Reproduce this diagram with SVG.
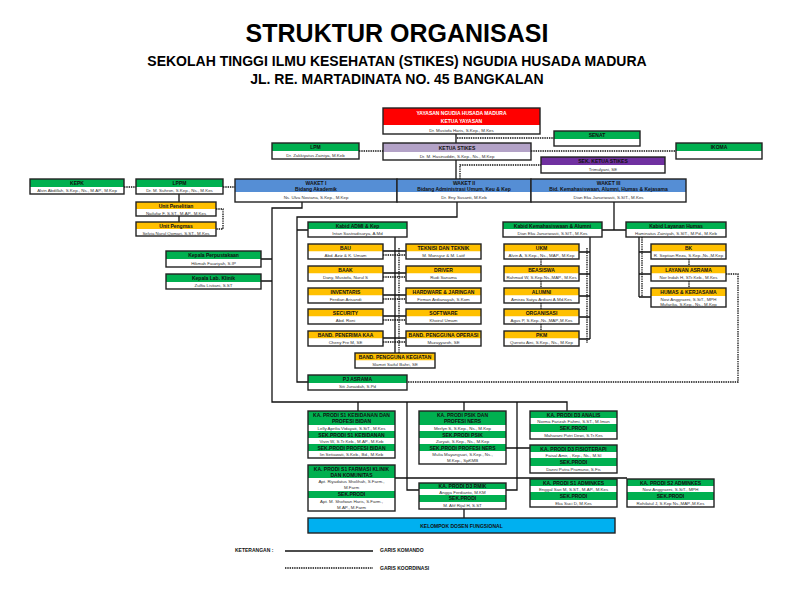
<svg xmlns="http://www.w3.org/2000/svg" width="792" height="612" viewBox="0 0 792 612">
<style>
.g{fill:#00b050}.y{fill:#ffc000}.w{fill:#fff}.bl{fill:#558ed5}
.o{fill:none;stroke:#222;stroke-width:1.4}
.h{font-family:"Liberation Sans",Arial,sans-serif;font-weight:bold;font-size:5px;text-anchor:middle;fill:#111}
.n{font-family:"Liberation Sans",Arial,sans-serif;font-size:4.4px;text-anchor:middle;fill:#333}
.t{font-family:"Liberation Sans",Arial,sans-serif;font-weight:bold;text-anchor:middle;fill:#000}
.c{fill:none;stroke:#111;stroke-width:1.3}
.d{fill:none;stroke:#111;stroke-width:1.3;stroke-dasharray:1.4 0.9}
</style>
<rect width="792" height="612" fill="#fff"/>
<text class="t" x="397" y="42" font-size="25">STRUKTUR ORGANISASI</text>
<text class="t" x="397" y="66" font-size="14">SEKOLAH TINGGI ILMU KESEHATAN (STIKES) NGUDIA HUSADA MADURA</text>
<text class="t" x="397" y="84" font-size="14">JL. RE. MARTADINATA NO. 45 BANGKALAN</text>

<g id="connectors">
<path class="c" d="M456,134V179"/>
<path class="c" d="M302,202V208H272V402H567V411M358,402V411M464,402V411M407,402V490H419M517,402V490H506M506,448H530M395,478H627M464,509V518"/>
<path class="c" d="M261,259H272M261,281H272"/>
<path class="c" d="M457,202V217H297V382H308M297,230H308"/>
<path class="c" d="M179,194V202M179,216V222"/>
<path class="c" d="M395,237V353M383,251H406M383,273H406M383,295H406M383,316H406M383,338H406"/>
<path class="d" d="M399,248V353M383,255H406M383,277H406M383,299H406M383,320H406M383,342H406"/>
<path class="c" d="M614,202V230M602,230H626"/>
<path class="c" d="M590,237V339M579,252H590M579,274H590M579,296H590M579,317H590M579,339H590"/>
<path class="d" d="M587,248V343M541,259V266M541,281V288M541,303V309M541,324V331"/>
<path class="c" d="M639,237V297M639,252H651M639,274H651M639,297H651"/>
<path class="d" d="M642,237V297M689,259V266M689,281V288"/>
<path class="d" d="M726,274H738V382H407"/>
<path class="d" d="M216,209H223V229H216"/>
<path class="d" d="M124,187H136M223,187H235M359,151H383M531,151H676M457,138H554M460,179V165H541"/>
</g>

<g id="yayasan"><rect x="383" y="108" width="157" height="17" fill="#ff0000"/><rect class="w" x="383" y="125" width="157" height="9"/><rect class="o" x="383" y="108" width="157" height="26"/>
<text class="h" x="461.5" y="115" font-size="6.5" fill="#fff" style="fill:#fff">YAYASAN NGUDIA HUSADA MADURA</text><text class="h" x="461.5" y="123" style="fill:#fff">KETUA YAYASAN</text><text class="n" x="461.5" y="131.5">Dr. Mustofa Haris, S.Kep., M.Kes</text></g>
<g id="senat"><rect class="g" x="554" y="131" width="86" height="8"/><rect class="w" x="554" y="139" width="86" height="7"/><rect class="o" x="554" y="131" width="86" height="15"/><text class="h" x="597" y="137">SENAT</text></g>
<g id="ketua"><rect x="383" y="143" width="148" height="9" fill="#b3a2c7"/><rect class="w" x="383" y="152" width="148" height="8"/><rect class="o" x="383" y="143" width="148" height="17"/><text class="h" x="457" y="149.5">KETUA STIKES</text><text class="n" x="457" y="157.8">Dr. M. Hasinuddin, S.Kep., Ns., M.Kep</text></g>
<g id="ikoma"><rect class="g" x="676" y="143" width="86" height="8"/><rect class="w" x="676" y="151" width="86" height="8"/><rect class="o" x="676" y="143" width="86" height="16"/><text class="h" x="719" y="149">IKOMA</text></g>
<g id="lpm"><rect class="g" x="272" y="143" width="87" height="8"/><rect class="w" x="272" y="151" width="87" height="8"/><rect class="o" x="272" y="143" width="87" height="16"/><text class="h" x="315.5" y="149">LPM</text><text class="n" x="315.5" y="156.8">Dr. Zakkiyatus Zainiya, M.Keb</text></g>
<g id="sek"><rect x="541" y="157" width="124" height="8" fill="#7030a0"/><rect class="w" x="541" y="165" width="124" height="8"/><rect class="o" x="541" y="157" width="124" height="16"/><text class="h" x="603" y="163">SEK. KETUA STIKES</text><text class="n" x="603" y="170.8">Trimulyani, SE</text></g>
<g id="kepk"><rect class="g" x="30" y="179" width="94" height="8"/><rect class="w" x="30" y="187" width="94" height="7"/><rect class="o" x="30" y="179" width="94" height="15"/><text class="h" x="77" y="185.2">KEPK</text><text class="n" x="77" y="192.3">Alvin Abdillah, S.Kep., Ns., M.AP., M.Kep</text></g>
<g id="lppm"><rect class="g" x="136" y="179" width="87" height="8"/><rect class="w" x="136" y="187" width="87" height="7"/><rect class="o" x="136" y="179" width="87" height="15"/><text class="h" x="179.5" y="185.2">LPPM</text><text class="n" x="179.5" y="192.3">Dr. M. Suhron, S.Kep., Ns., M.Kes</text></g>
<g id="waket1"><rect class="bl" x="235" y="179" width="162" height="13"/><rect class="w" x="235" y="192" width="162" height="10"/><rect class="o" x="235" y="179" width="162" height="23"/><text class="h" x="316" y="184.8" font-size="6">WAKET I</text><text class="h" x="316" y="190.8" font-size="6">Bidang Akademik</text><text class="n" x="316" y="198.8">Ns. Ulva Noviana, S.Kep., M.Kep</text></g>
<g id="waket2"><rect class="bl" x="397" y="179" width="134" height="13"/><rect class="w" x="397" y="192" width="134" height="10"/><rect class="o" x="397" y="179" width="134" height="23"/><text class="h" x="464" y="184.8" font-size="6">WAKET II</text><text class="h" x="464" y="190.8" font-size="6">Bidang Administrasi Umum, Keu &amp; Kep</text><text class="n" x="464" y="198.8">Dr. Eny Susanti, M.Keb</text></g>
<g id="waket3"><rect class="bl" x="531" y="179" width="155" height="13"/><rect class="w" x="531" y="192" width="155" height="10"/><rect class="o" x="531" y="179" width="155" height="23"/><text class="h" x="608.5" y="184.8" font-size="6">WAKET III</text><text class="h" x="608.5" y="190.8" font-size="6">Bid. Kemahasiswaan, Alumni, Humas &amp; Kejasama</text><text class="n" x="608.5" y="198.8">Dian Eka Januriwasti, S.SIT., M.Kes</text></g>
<g id="penelitian"><rect class="y" x="136" y="202" width="80" height="7"/><rect class="w" x="136" y="209" width="80" height="7"/><rect class="o" x="136" y="202" width="80" height="14"/><text class="h" x="176" y="207.8">Unit Penelitian</text><text class="n" x="176" y="214.5">Nailufar F, S.ST., M.AP., M.Kes</text></g>
<g id="pengmas"><rect class="y" x="136" y="222" width="80" height="7"/><rect class="w" x="136" y="229" width="80" height="7"/><rect class="o" x="136" y="222" width="80" height="14"/><text class="h" x="176" y="227.8">Unit Pengmas</text><text class="n" x="176" y="234.5">Selvia Nurul Qomari, S.ST., M.Kes</text></g>
<g id="kabid-admi"><rect class="g" x="308" y="222" width="99" height="7"/><rect class="w" x="308" y="229" width="99" height="8"/><rect class="o" x="308" y="222" width="99" height="15"/><text class="h" x="357.5" y="227.8">Kabid ADMI &amp; Kep</text><text class="n" x="357.5" y="235">Intan Sastradisurya, A.Md</text></g>
<g id="kabid-kem"><rect class="g" x="503" y="222" width="99" height="7"/><rect class="w" x="503" y="229" width="99" height="8"/><rect class="o" x="503" y="222" width="99" height="15"/><text class="h" x="552.5" y="227.8">Kabid Kemahasiswaan &amp; Alumni</text><text class="n" x="552.5" y="235">Dian Eka Januriwasti, S.SIT., M.Kes</text></g>
<g id="kabid-humas"><rect class="g" x="626" y="222" width="100" height="7"/><rect class="w" x="626" y="229" width="100" height="8"/><rect class="o" x="626" y="222" width="100" height="15"/><text class="h" x="676" y="227.8">Kabid Layanan Humas</text><text class="n" x="676" y="235">Haminatus Zainiyah, S.SIT., M.Pd., M.Keb</text></g>
<g id="perpus"><rect class="g" x="166" y="251" width="95" height="8"/><rect class="w" x="166" y="259" width="95" height="8"/><rect class="o" x="166" y="251" width="95" height="16"/><text class="h" x="213.5" y="257">Kepala Perpustakaan</text><text class="n" x="213.5" y="264.8">Hikmah Fauziyah, S.IP</text></g>
<g id="lab"><rect class="g" x="166" y="274" width="95" height="8"/><rect class="w" x="166" y="282" width="95" height="7"/><rect class="o" x="166" y="274" width="95" height="15"/><text class="h" x="213.5" y="280">Kepala Lab. Klinik</text><text class="n" x="213.5" y="287.3">Zulfia Listiani, S.ST</text></g>

<g id="bau"><rect class="y" x="308" y="244" width="75" height="7.5"/><rect class="w" x="308" y="251.5" width="75" height="7.5"/><rect class="o" x="308" y="244" width="75" height="15"/><text class="h" x="345.5" y="249.8">BAU</text><text class="n" x="345.5" y="257">Abd. Aziz &amp; K. Umam</text></g>
<g id="baak"><rect class="y" x="308" y="266" width="75" height="7.5"/><rect class="w" x="308" y="273.5" width="75" height="7.5"/><rect class="o" x="308" y="266" width="75" height="15"/><text class="h" x="345.5" y="271.8">BAAK</text><text class="n" x="345.5" y="279">Dany, Mustofa, Nurul S</text></g>
<g id="inventaris"><rect class="y" x="308" y="288" width="75" height="7.5"/><rect class="w" x="308" y="295.5" width="75" height="7.5"/><rect class="o" x="308" y="288" width="75" height="15"/><text class="h" x="345.5" y="293.8">INVENTARIS</text><text class="n" x="345.5" y="301">Ferdian Arisandi</text></g>
<g id="security"><rect class="y" x="308" y="309" width="75" height="7.5"/><rect class="w" x="308" y="316.5" width="75" height="7.5"/><rect class="o" x="308" y="309" width="75" height="15"/><text class="h" x="345.5" y="314.8">SECURITY</text><text class="n" x="345.5" y="322">Abd. Roni</text></g>
<g id="penerima"><rect class="y" x="308" y="331" width="75" height="7.5"/><rect class="w" x="308" y="338.5" width="75" height="7.5"/><rect class="o" x="308" y="331" width="75" height="15"/><text class="h" x="345.5" y="336.8">BAND. PENERIMA KAA</text><text class="n" x="345.5" y="344">Cheny Fre M, SE</text></g>
<g id="teknisi"><rect class="y" x="406" y="244" width="75" height="7.5"/><rect class="w" x="406" y="251.5" width="75" height="7.5"/><rect class="o" x="406" y="244" width="75" height="15"/><text class="h" x="443.5" y="249.8">TEKNISI DAN TEKNIK</text><text class="n" x="443.5" y="257">M. Mansyur &amp; M. Latif</text></g>
<g id="driver"><rect class="y" x="406" y="266" width="75" height="7.5"/><rect class="w" x="406" y="273.5" width="75" height="7.5"/><rect class="o" x="406" y="266" width="75" height="15"/><text class="h" x="443.5" y="271.8">DRIVER</text><text class="n" x="443.5" y="279">Rudi Sanama</text></g>
<g id="hardware"><rect class="y" x="406" y="288" width="75" height="7.5"/><rect class="w" x="406" y="295.5" width="75" height="7.5"/><rect class="o" x="406" y="288" width="75" height="15"/><text class="h" x="443.5" y="293.8">HARDWARE &amp; JARINGAN</text><text class="n" x="443.5" y="301">Firman Ardianayah, S.Kom</text></g>
<g id="software"><rect class="y" x="406" y="309" width="75" height="7.5"/><rect class="w" x="406" y="316.5" width="75" height="7.5"/><rect class="o" x="406" y="309" width="75" height="15"/><text class="h" x="443.5" y="314.8">SOFTWARE</text><text class="n" x="443.5" y="322">Khoirul Umam</text></g>
<g id="operasi"><rect class="y" x="406" y="331" width="75" height="7.5"/><rect class="w" x="406" y="338.5" width="75" height="7.5"/><rect class="o" x="406" y="331" width="75" height="15"/><text class="h" x="443.5" y="336.8" font-size="4.6">BAND. PENGGUNA OPERASI</text><text class="n" x="443.5" y="344">Muzayyaroh, SE</text></g>
<g id="kegiatan"><rect class="y" x="355" y="353" width="80" height="7.5"/><rect class="w" x="355" y="360.5" width="80" height="7.5"/><rect class="o" x="355" y="353" width="80" height="15"/><text class="h" x="395" y="358.8" font-size="4.6">BAND. PENGGUNA KEGIATAN</text><text class="n" x="395" y="366">Slamet Saiful Bahri, SE</text></g>
<g id="pj-asrama"><rect class="g" x="308" y="375" width="99" height="8"/><rect class="w" x="308" y="383" width="99" height="7"/><rect class="o" x="308" y="375" width="99" height="15"/><text class="h" x="357.5" y="381">PJ ASRAMA</text><text class="n" x="357.5" y="388.3">Siti Junaidah, S.Pd</text></g>

<g id="ukm"><rect class="y" x="504" y="244" width="75" height="7.5"/><rect class="w" x="504" y="251.5" width="75" height="7.5"/><rect class="o" x="504" y="244" width="75" height="15"/><text class="h" x="541.5" y="249.8">UKM</text><text class="n" x="541.5" y="257">Alvin A, S.Kep., Ns., MAP., M.Kep</text></g>
<g id="beasiswa"><rect class="y" x="504" y="266" width="75" height="7.5"/><rect class="w" x="504" y="273.5" width="75" height="7.5"/><rect class="o" x="504" y="266" width="75" height="15"/><text class="h" x="541.5" y="271.8">BEASISWA</text><text class="n" x="541.5" y="279">Rahmad W, S.Kep.Ns.,MAP., M.Kes</text></g>
<g id="alumni"><rect class="y" x="504" y="288" width="75" height="7.5"/><rect class="w" x="504" y="295.5" width="75" height="7.5"/><rect class="o" x="504" y="288" width="75" height="15"/><text class="h" x="541.5" y="293.8">ALUMNI</text><text class="n" x="541.5" y="301">Amirza Satya Ardiani A.Md.Kes</text></g>
<g id="organisasi"><rect class="y" x="504" y="309" width="75" height="7.5"/><rect class="w" x="504" y="316.5" width="75" height="7.5"/><rect class="o" x="504" y="309" width="75" height="15"/><text class="h" x="541.5" y="314.8">ORGANISASI</text><text class="n" x="541.5" y="322">Agus P, S.Kep.,Ns.,MAP.,M.Kes</text></g>
<g id="pkm"><rect class="y" x="504" y="331" width="75" height="7.5"/><rect class="w" x="504" y="338.5" width="75" height="7.5"/><rect class="o" x="504" y="331" width="75" height="15"/><text class="h" x="541.5" y="336.8">PKM</text><text class="n" x="541.5" y="344">Qurrotu Aini, S.Kep., Ns., M.Kep</text></g>
<g id="bk"><rect class="y" x="651" y="244" width="75" height="7.5"/><rect class="w" x="651" y="251.5" width="75" height="7.5"/><rect class="o" x="651" y="244" width="75" height="15"/><text class="h" x="688.5" y="249.8">BK</text><text class="n" x="688.5" y="257">R. Septian Reza, S.Kep.,Ns.,M.Kep</text></g>
<g id="layanan-asrama"><rect class="y" x="651" y="266" width="75" height="7.5"/><rect class="w" x="651" y="273.5" width="75" height="7.5"/><rect class="o" x="651" y="266" width="75" height="15"/><text class="h" x="688.5" y="271.8">LAYANAN ASRAMA</text><text class="n" x="688.5" y="279">Nor Indah H, STr.Keb., M.Kes</text></g>
<g id="humas"><rect class="y" x="651" y="288" width="75" height="8"/><rect class="w" x="651" y="296" width="75" height="11"/><rect class="o" x="651" y="288" width="75" height="19"/><text class="h" x="688.5" y="294">HUMAS &amp; KERJASAMA</text><text class="n" x="688.5" y="300.5">Novi Anggraeni, S.SiT., MPH</text><text class="n" x="688.5" y="305.5">Mufarika, S.Kep., Ns., M.Kep</text></g>

<g id="prodi-s1-keb"><rect class="g" x="308" y="411" width="87" height="14"/><rect class="w" x="308" y="425" width="87" height="6"/><rect class="g" x="308" y="431" width="87" height="7"/><rect class="w" x="308" y="438" width="87" height="6"/><rect class="g" x="308" y="444" width="87" height="7"/><rect class="w" x="308" y="451" width="87" height="7"/><rect class="o" x="308" y="411" width="87" height="47"/>
<text class="h" x="351.5" y="416.5" font-size="4.6">KA. PRODI S1 KEBIDANAN DAN</text><text class="h" x="351.5" y="423.3" font-size="4.6">PROFESI BIDAN</text><text class="n" x="351.5" y="429.8">Lelly Aprilia Vidayati, S.SiT., M.Kes</text><text class="h" x="351.5" y="436.5" font-size="4.6">SEK.PRODI S1 KEBIDANAN</text><text class="n" x="351.5" y="442.8">Vivin W, S.Tr.Keb., M.AP., M.Keb</text><text class="h" x="351.5" y="449.5" font-size="4.6">SEK.PRODI PROFESI BIDAN</text><text class="n" x="351.5" y="456.2">Iin Setiawati, S.Keb., Bd., M.Keb</text></g>
<g id="prodi-psik"><rect class="g" x="419" y="411" width="87" height="14"/><rect class="w" x="419" y="425" width="87" height="6"/><rect class="g" x="419" y="431" width="87" height="7"/><rect class="w" x="419" y="438" width="87" height="6"/><rect class="g" x="419" y="444" width="87" height="7"/><rect class="w" x="419" y="451" width="87" height="13"/><rect class="o" x="419" y="411" width="87" height="53"/>
<text class="h" x="462.5" y="416.5" font-size="4.6">KA. PRODI PSIK DAN</text><text class="h" x="462.5" y="423.3" font-size="4.6">PROFESI NERS</text><text class="n" x="462.5" y="429.8">Merlyn S, S.Kep., Ns., M.Kep</text><text class="h" x="462.5" y="436.5" font-size="4.6">SEK.PRODI PSIK</text><text class="n" x="462.5" y="442.8">Zuryati, S.Kep., Ns., M.Kep</text><text class="h" x="462.5" y="449.5" font-size="4.6">SEK.PRODI PROFESI NERS</text><text class="n" x="462.5" y="456">Mulia Mayangsari, S.Kep., Ns.,</text><text class="n" x="462.5" y="461.5">M.Kep., SpKMB</text></g>
<g id="prodi-d3-analis"><rect class="g" x="530" y="411" width="87" height="7"/><rect class="w" x="530" y="418" width="87" height="6"/><rect class="g" x="530" y="424" width="87" height="8"/><rect class="w" x="530" y="432" width="87" height="7"/><rect class="o" x="530" y="411" width="87" height="28"/>
<text class="h" x="573.5" y="416.5" font-size="4.6">KA. PRODI D3 ANALIS</text><text class="n" x="573.5" y="422.6">Norma Farizah Fahmi, S.ST., M.Imun</text><text class="h" x="573.5" y="429.8" font-size="4.6">SEK.PRODI</text><text class="n" x="573.5" y="437">Maharani Putri Dewi, S.Tr.Kes</text></g>
<g id="prodi-d3-fisio"><rect class="g" x="530" y="445" width="87" height="7"/><rect class="w" x="530" y="452" width="87" height="6"/><rect class="g" x="530" y="458" width="87" height="8"/><rect class="w" x="530" y="466" width="87" height="7"/><rect class="o" x="530" y="445" width="87" height="28"/>
<text class="h" x="573.5" y="450.5" font-size="4.6">KA. PRODI D3 FISIOTERAPI</text><text class="n" x="573.5" y="456.6">Faisal Amir, , Kep., Ns., M.SI</text><text class="h" x="573.5" y="463.8" font-size="4.6">SEK.PRODI</text><text class="n" x="573.5" y="471">Danni Putra Pramuno, S.Fis</text></g>
<g id="prodi-s1-farmasi"><rect class="g" x="308" y="465" width="87" height="13"/><rect class="w" x="308" y="478" width="87" height="13"/><rect class="g" x="308" y="491" width="87" height="7"/><rect class="w" x="308" y="498" width="87" height="13"/><rect class="o" x="308" y="465" width="87" height="46"/>
<text class="h" x="351.5" y="470.5" font-size="4.6">KA. PRODI S1 FARMASI KLINIK</text><text class="h" x="351.5" y="476.5" font-size="4.6">DAN KOMUNITAS</text><text class="n" x="351.5" y="483.2">Apt. Riyadatus Sholihah, S.Farm.,</text><text class="n" x="351.5" y="489">M.Farm</text><text class="h" x="351.5" y="496.3" font-size="4.6">SEK.PRODI</text><text class="n" x="351.5" y="503">Apt. M. Shofwan Haris, S.Farm.,</text><text class="n" x="351.5" y="509">M.AP., M.Farm</text></g>
<g id="prodi-d3-rmik"><rect class="g" x="419" y="483" width="87" height="6"/><rect class="w" x="419" y="489" width="87" height="6"/><rect class="g" x="419" y="495" width="87" height="7"/><rect class="w" x="419" y="502" width="87" height="7"/><rect class="o" x="419" y="483" width="87" height="26"/>
<text class="h" x="462.5" y="488" font-size="4.6">KA. PRODI D3 RMIK</text><text class="n" x="462.5" y="493.6">Angga Ferdianto, M.KM</text><text class="h" x="462.5" y="500.3" font-size="4.6">SEK.PRODI</text><text class="n" x="462.5" y="507">M. Afif Rijal H, S.ST</text></g>
<g id="prodi-s1-adminkes"><rect class="g" x="530" y="479" width="87" height="7"/><rect class="w" x="530" y="486" width="87" height="6"/><rect class="g" x="530" y="492" width="87" height="8"/><rect class="w" x="530" y="500" width="87" height="7"/><rect class="o" x="530" y="479" width="87" height="28"/>
<text class="h" x="573.5" y="484.5" font-size="4.6">KA. PRODI S1 ADMINKES</text><text class="n" x="573.5" y="490.6">Enggal Sari M, S.ST., M.AP., M.Kes</text><text class="h" x="573.5" y="497.8" font-size="4.6">SEK.PRODI</text><text class="n" x="573.5" y="505">Eka Suci D, M.Kes</text></g>
<g id="prodi-s2-adminkes"><rect class="g" x="627" y="479" width="87" height="7"/><rect class="w" x="627" y="486" width="87" height="6"/><rect class="g" x="627" y="492" width="87" height="8"/><rect class="w" x="627" y="500" width="87" height="7"/><rect class="o" x="627" y="479" width="87" height="28"/>
<text class="h" x="670.5" y="484.5" font-size="4.6">KA. PRODI S2 ADMINKES</text><text class="n" x="670.5" y="490.6">Novi Anggraeni, S.SiT., MPH</text><text class="h" x="670.5" y="497.8" font-size="4.6">SEK.PRODI</text><text class="n" x="670.5" y="505">Rohilatul J, S.Kep Ns.,MAP.,M.Kes</text></g>
<g id="dosen"><rect x="308" y="518" width="307" height="15" fill="#00b0f0"/><rect class="o" x="308" y="518" width="307" height="15"/><text class="h" x="461.5" y="527.5" font-size="5.2">KELOMPOK DOSEN FUNGSIONAL</text></g>

<g id="legend">
<text class="h" x="235" y="552" style="text-anchor:start">KETERANGAN :</text>
<path class="c" d="M285,551H373"/><text class="h" x="380" y="552" style="text-anchor:start">GARIS KOMANDO</text>
<path class="d" d="M285,568H373"/><text class="h" x="380" y="570" style="text-anchor:start">GARIS KOORDINASI</text>
</g>
</svg>
